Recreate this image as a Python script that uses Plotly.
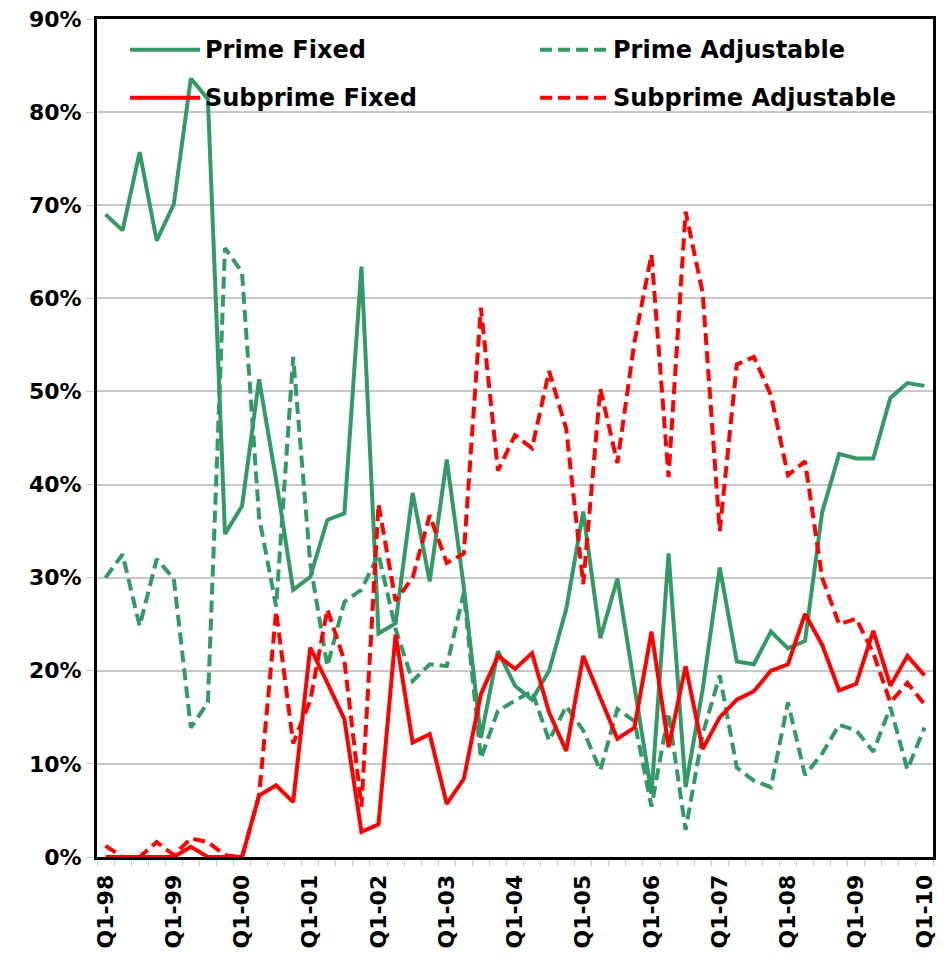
import plotly.graph_objects as go

quarters = ["Q1-98", "Q2-98", "Q3-98", "Q4-98", "Q1-99", "Q2-99", "Q3-99", "Q4-99",
            "Q1-00", "Q2-00", "Q3-00", "Q4-00", "Q1-01", "Q2-01", "Q3-01", "Q4-01",
            "Q1-02", "Q2-02", "Q3-02", "Q4-02", "Q1-03", "Q2-03", "Q3-03", "Q4-03",
            "Q1-04", "Q2-04", "Q3-04", "Q4-04", "Q1-05", "Q2-05", "Q3-05", "Q4-05",
            "Q1-06", "Q2-06", "Q3-06", "Q4-06", "Q1-07", "Q2-07", "Q3-07", "Q4-07",
            "Q1-08", "Q2-08", "Q3-08", "Q4-08", "Q1-09", "Q2-09", "Q3-09", "Q4-09",
            "Q1-10"]

prime_fixed = [69.0, 67.3, 75.7, 66.2, 70.1, 83.6, 81.4, 34.7, 37.7, 51.3, 40.5, 28.7,
               30.1, 36.2, 36.9, 63.4, 24.0, 25.1, 39.1, 29.6, 42.7, 29.0, 12.8, 22.1,
               18.4, 16.9, 20.0, 26.6, 37.1, 23.5, 29.9, 18.0, 6.8, 32.6, 7.5, 18.0,
               31.1, 21.0, 20.7, 24.2, 22.4, 23.2, 37.0, 43.3, 42.8, 42.8, 49.3, 50.9,
               50.6]
prime_adj = [30.0, 32.5, 24.8, 32.0, 29.9, 13.9, 16.6, 65.4, 62.8, 36.5, 26.9, 53.7,
             31.5, 20.5, 27.4, 28.7, 32.5, 24.5, 18.9, 20.7, 20.5, 28.4, 10.6, 15.7,
             16.8, 17.8, 12.5, 16.2, 13.6, 9.3, 15.9, 14.6, 5.4, 15.5, 2.9, 13.2,
             19.5, 9.6, 8.2, 7.5, 16.6, 8.8, 11.1, 14.2, 13.6, 11.3, 16.1, 9.4,
             13.9]
subprime_fixed = [0, 0, 0, 0, 0, 1.1, 0, 0, 0, 6.6, 7.7, 5.9,
                  22.5, 18.7, 14.8, 2.7, 3.5, 23.9, 12.3, 13.2, 5.7, 8.4, 17.5, 21.6,
                  20.2, 21.9, 15.5, 11.4, 21.6, 17.1, 12.7, 13.9, 24.2, 11.8, 20.5, 11.6,
                  15.0, 16.9, 17.8, 20.0, 20.7, 26.1, 22.8, 17.9, 18.6, 24.3, 18.4, 21.6,
                  19.5]
subprime_adj = [1.2, 0, 0, 1.6, 0.2, 2.0, 1.6, 0.2, 0, 6.6, 26.4, 12.2,
                16.8, 26.6, 21.1, 5.4, 37.9, 27.5, 30.0, 36.7, 31.6, 32.6, 59.0, 41.5,
                45.3, 43.9, 52.2, 46.0, 29.3, 50.3, 42.3, 55.3, 64.7, 40.8, 69.3, 60.6,
                35.0, 52.9, 53.7, 49.6, 41.0, 42.5, 30.0, 25.0, 25.6, 21.9, 16.6, 18.7,
                16.4]

series_names = ["Prime Fixed", "Prime Adjustable", "Subprime Fixed", "Subprime Adjustable"]
series_values = [prime_fixed, prime_adj, subprime_fixed, subprime_adj]
y_ticks = [0, 10, 20, 30, 40, 50, 60, 70, 80, 90]

GREEN = "#339966"
RED = "#FF0000"
DASH = "12px,6px"
styles = [(GREEN, "solid"), (GREEN, DASH), (RED, "solid"), (RED, DASH)]

FONT = "DejaVu Sans, Verdana, sans-serif"

x_idx = list(range(len(quarters)))
fig = go.Figure()
for name, vals, (col, dash) in zip(series_names, series_values, styles):
    fig.add_trace(go.Scatter(x=x_idx, y=vals, mode="lines", name=name,
                             line=dict(color=col, width=4, dash=dash),
                             showlegend=False,
                             hovertemplate="%{text}: %{y:.1f}%<extra>" + name + "</extra>",
                             text=quarters))

# manual legend (two columns)
legend_pos = [(0.0395, 0.1232, 0.1270, 0.9632), (0.530, 0.610, 0.6150, 0.9632),
              (0.0395, 0.1232, 0.1270, 0.9060), (0.530, 0.610, 0.6150, 0.9060)]
for name, (col, dash), (x0, x1, xt, yy) in zip(series_names, styles, legend_pos):
    fig.add_shape(type="line", xref="paper", yref="paper", x0=x0, x1=x1, y0=yy, y1=yy,
                  line=dict(color=col, width=4, dash=dash))
    fig.add_annotation(xref="paper", yref="paper", x=xt, y=yy, text=name,
                       showarrow=False, xanchor="left", yanchor="middle",
                       font=dict(family=FONT, size=24, color="black", weight="bold"))

tick_idx = x_idx[::4]
fig.update_xaxes(range=[-0.5, len(quarters) - 0.5], automargin=False,
                 tickvals=tick_idx, ticktext=[quarters[i] for i in tick_idx],
                 tickangle=-90, ticks="", showgrid=False, zeroline=False,
                 showline=True, linecolor="black", linewidth=3, mirror=True,
                 ticklabelstandoff=6, ticklabeloverflow="allow",
                 tickfont=dict(family=FONT, size=22, color="black", weight="bold"),
                 minor=dict(ticks="outside", tick0=-0.5, dtick=1, ticklen=6,
                            tickcolor="#c8c8c8", tickwidth=1, showgrid=False))
fig.update_yaxes(range=[0, 90], tickvals=y_ticks, ticktext=[f"{v}%" for v in y_ticks],
                 automargin=False, ticklabeloverflow="allow",
                 ticks="outside", ticklen=8, tickcolor="#c8c8c8",
                 showgrid=True, gridcolor="#c8c8c8", gridwidth=2, zeroline=False,
                 showline=True, linecolor="black", linewidth=3, mirror=True,
                 tickfont=dict(family=FONT, size=22, color="black", weight="bold"))

fig.update_layout(width=940, height=955,
                  margin=dict(l=89, r=15, t=11, b=106),
                  plot_bgcolor="white", paper_bgcolor="white",
                  showlegend=False)

fig.write_html("out.html")
